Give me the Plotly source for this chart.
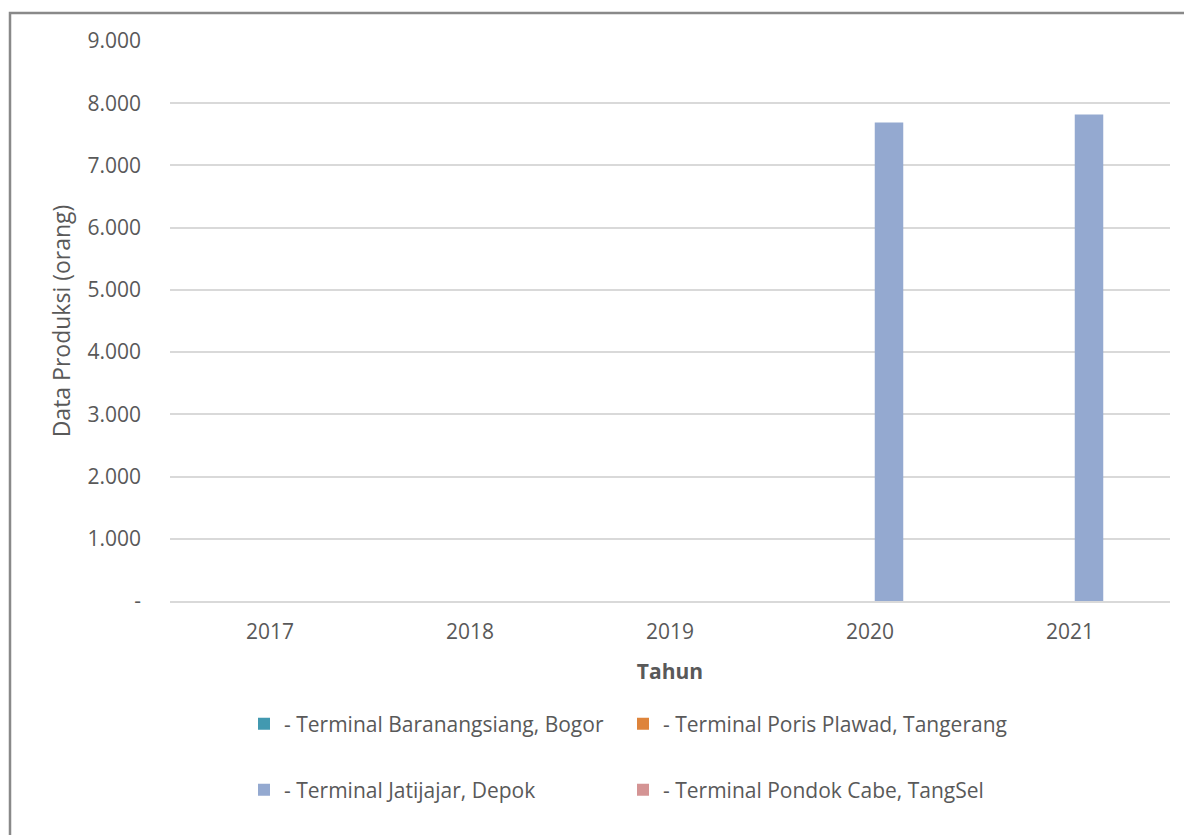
import plotly.graph_objects as go

years = ["2017", "2018", "2019", "2020", "2021"]
series_names = [
    "- Terminal Baranangsiang, Bogor",
    "- Terminal Poris Plawad, Tangerang",
    "- Terminal Jatijajar, Depok",
    "- Terminal Pondok Cabe, TangSel",
]
baranangsiang = [0, 0, 0, 0, 0]
poris_plawad = [0, 0, 0, 0, 0]
jatijajar = [0, 0, 0, 7690, 7820]
pondok_cabe = [0, 0, 0, 0, 0]
colors = ["#4299B0", "#DE843B", "#94A9D0", "#D49494"]
y_tickvals = [0, 1000, 2000, 3000, 4000, 5000, 6000, 7000, 8000, 9000]
y_ticktext = ["-", "1.000", "2.000", "3.000", "4.000", "5.000", "6.000", "7.000", "8.000", "9.000"]

all_series = [baranangsiang, poris_plawad, jatijajar, pondok_cabe]
legend_ids = ["legend", "legend2", "legend3", "legend4"]

FONT = "Open Sans"
TXT = "#595959"
FS = 21

fig = go.Figure()
for name, vals, col, lg in zip(series_names, all_series, colors, legend_ids):
    fig.add_trace(go.Bar(x=years, y=vals, name=name, marker_color=col,
                         marker_line_width=0, legend=lg, showlegend=True))

W, H = 1184, 835
L, R, T, B = 170, 14, 41, 234
pw, ph = W - L - R, H - T - B

def px_x(x):
    return (x - L) / pw

def px_y(y):
    return 1 - (y - T) / ph

legend_common = dict(orientation="h", xanchor="left", yanchor="middle",
                     font=dict(family=FONT, size=FS, color=TXT),
                     bgcolor="rgba(0,0,0,0)", itemwidth=30, visible=True)

fig.update_layout(
    width=W, height=H,
    margin=dict(l=L, r=R, t=T, b=B),
    paper_bgcolor="white", plot_bgcolor="white",
    showlegend=True,
    barmode="group", bargap=0.24, bargroupgap=0.25,
    font=dict(family=FONT, size=FS, color=TXT),
    legend=dict(x=px_x(244), y=px_y(724), **legend_common),
    legend2=dict(x=px_x(623), y=px_y(724), **legend_common),
    legend3=dict(x=px_x(244), y=px_y(790), **legend_common),
    legend4=dict(x=px_x(623), y=px_y(790), **legend_common),
    shapes=[dict(type="rect", xref="paper", yref="paper",
                 x0=px_x(10), x1=px_x(1300), y0=px_y(1000), y1=px_y(13),
                 line=dict(color="#898989", width=2.5), fillcolor="rgba(0,0,0,0)",
                 layer="below")],
)
fig.update_xaxes(
    showgrid=False, showline=True, linecolor="#D9D9D9", linewidth=1.5,
    ticks="", ticklabelstandoff=11,
    tickfont=dict(family=FONT, size=FS, color=TXT),
    title=dict(text="<b>Tahun</b>", font=dict(family=FONT, size=FS, color=TXT), standoff=20),
)
fig.update_yaxes(
    range=[0, 9000], tickvals=y_tickvals, ticktext=y_ticktext,
    showgrid=True, gridcolor="#D9D9D9", gridwidth=1.5, zeroline=False,
    showline=False, ticks="", ticklabelstandoff=28,
    tickfont=dict(family=FONT, size=FS, color=TXT),
    title=dict(text="Data Produksi (orang)", font=dict(family=FONT, size=23, color=TXT), standoff=10),
)

fig.write_html("out.html", config={"displayModeBar": False},
               post_script="document.body.style.margin='0px';")
